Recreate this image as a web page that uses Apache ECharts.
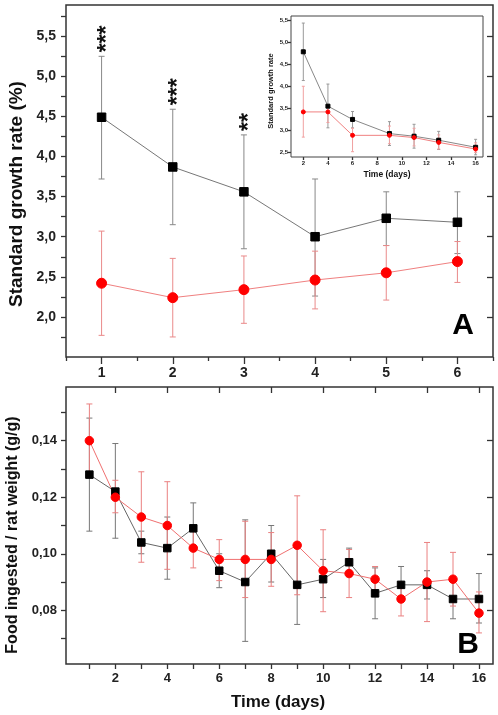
<!DOCTYPE html>
<html><head><meta charset="utf-8">
<script src="https://cdn.jsdelivr.net/npm/echarts@6/dist/echarts.min.js"></script>
<style>html,body{margin:0;padding:0;background:#fff}#c{width:498px;height:715px}</style>
</head><body><div id="c"></div>
<script>
// ---------- Panel A (weeks) ----------
const weeksA = [1, 2, 3, 4, 5, 6];
const blackA   = [4.49, 3.87, 3.56, 3.00, 3.23, 3.18];
const blackAHi = [5.25, 4.59, 4.27, 3.72, 3.56, 3.56];
const blackALo = [3.72, 3.15, 2.85, 2.26, 2.89, 2.79];
const redA     = [2.42, 2.24, 2.34, 2.46, 2.55, 2.69];
const redAHi   = [3.07, 2.73, 2.76, 2.82, 2.89, 2.94];
const redALo   = [1.77, 1.75, 1.92, 2.10, 2.21, 2.43];
const starsA   = ['***', '***', '**', '', '', ''];
const yTicksA  = [2.0, 2.5, 3.0, 3.5, 4.0, 4.5, 5.0, 5.5];
const yMinorA  = [1.75, 2.0, 2.25, 2.5, 2.75, 3.0, 3.25, 3.5, 3.75, 4.0, 4.25, 4.5, 4.75, 5.0, 5.25, 5.5, 5.75];
const xMinorA  = [0.5, 1.5, 2.5, 3.5, 4.5, 5.5, 6.5];

// ---------- Inset (days) ----------
const daysIn     = [2, 4, 6, 9, 11, 13, 16];
const blackIn    = [4.78, 3.55, 3.25, 2.93, 2.87, 2.78, 2.62];
const blackInHi  = [5.43, 4.05, 3.43, 3.20, 3.14, 2.98, 2.80];
const blackInLo  = [4.13, 3.06, 3.06, 2.66, 2.60, 2.57, 2.45];
const redIn      = [3.42, 3.42, 2.89, 2.89, 2.84, 2.73, 2.58];
const redInHi    = [4.00, 3.55, 3.05, 3.10, 3.05, 2.90, 2.72];
const redInLo    = [2.85, 3.18, 2.52, 2.70, 2.65, 2.58, 2.50];
const xTicksIn   = [2, 4, 6, 8, 10, 12, 14, 16];
const yTicksIn   = [2.5, 3.0, 3.5, 4.0, 4.5, 5.0, 5.5];

// ---------- Panel B (days) ----------
const daysB    = [1, 2, 3, 4, 5, 6, 7, 8, 9, 10, 11, 12, 13, 14, 15, 16];
const blackB   = [0.128, 0.122, 0.104, 0.102, 0.109, 0.094, 0.090, 0.100, 0.089, 0.091, 0.097, 0.086, 0.089, 0.089, 0.084, 0.084];
const blackBHi = [0.148, 0.139, 0.108, 0.113, 0.118, 0.100, 0.112, 0.110, 0.103, 0.098, 0.102, 0.095, 0.0955, 0.094, 0.091, 0.093];
const blackBLo = [0.108, 0.1055, 0.100, 0.091, 0.101, 0.088, 0.069, 0.090, 0.075, 0.0845, 0.092, 0.077, 0.083, 0.084, 0.077, 0.0755];
const redB     = [0.140, 0.120, 0.113, 0.110, 0.102, 0.098, 0.098, 0.098, 0.103, 0.094, 0.093, 0.091, 0.084, 0.090, 0.091, 0.079];
const redBHi   = [0.153, 0.126, 0.129, 0.1255, 0.109, 0.105, 0.1115, 0.1075, 0.1205, 0.1085, 0.1015, 0.0955, 0.090, 0.104, 0.1005, 0.0865];
const redBLo   = [0.127, 0.1145, 0.097, 0.0945, 0.095, 0.0905, 0.0845, 0.0885, 0.0855, 0.0795, 0.0845, 0.0865, 0.078, 0.076, 0.0815, 0.072];
const yTicksB  = [0.08, 0.10, 0.12, 0.14];
const yMinorB  = [0.07, 0.08, 0.09, 0.10, 0.11, 0.12, 0.13, 0.14, 0.15];
const xTicksB  = [2, 4, 6, 8, 10, 12, 14, 16];
const xMinorB  = [1, 2, 3, 4, 5, 6, 7, 8, 9, 10, 11, 12, 13, 14, 15, 16];

const FONT = '"Liberation Sans", Arial, sans-serif';
const comma = d => v => v.toFixed(d).replace('.', ',');
const zip = (a, b) => a.map((v, i) => [v, b[i]]);

function axis(o) {
  return Object.assign({
    type: 'value', axisLine: {show: false}, splitLine: {show: false},
    axisTick: {show: false}, axisLabel: {show: false}
  }, o);
}
function ticks(vals, len, inside, color) {
  return {show: true, customValues: vals, length: len, inside: !!inside,
          lineStyle: {color: color || '#333', width: 1.3}};
}
function labels(vals, size, fmt, margin, extra) {
  return Object.assign({show: true, customValues: vals, fontSize: size, fontWeight: 'bold',
          fontFamily: FONT, color: '#222', formatter: fmt, margin: margin}, extra || {});
}
function errSeries(xi, yi, xs, lo, hi, color, cap) {
  return {
    type: 'custom', xAxisIndex: xi, yAxisIndex: yi, silent: true, z: 1,
    data: xs.map((x, i) => [x, lo[i], hi[i]]),
    encode: {x: 0, y: [1, 2]},
    renderItem(params, api) {
      const x = api.value(0);
      const a = api.coord([x, api.value(1)]);
      const b = api.coord([x, api.value(2)]);
      const h = cap / 2, st = {stroke: color, lineWidth: 1, fill: null};
      return {type: 'group', children: [
        {type: 'line', shape: {x1: a[0], y1: a[1], x2: b[0], y2: b[1]}, style: st},
        {type: 'line', shape: {x1: a[0] - h, y1: a[1], x2: a[0] + h, y2: a[1]}, style: st},
        {type: 'line', shape: {x1: b[0] - h, y1: b[1], x2: b[0] + h, y2: b[1]}, style: st}
      ]};
    }
  };
}
function lineSeries(xi, yi, xs, ys, sym, size, col, lineCol) {
  return {type: 'line', xAxisIndex: xi, yAxisIndex: yi, data: zip(xs, ys), symbol: sym,
    symbolSize: size, itemStyle: {color: col, borderColor: col}, showSymbol: true,
    lineStyle: {color: lineCol, width: 1}, z: 3, silent: true, animation: false};
}

const A = {min: 1.5, max: 5.89}, AX = {min: 0.5, max: 6.5};
const I = {min: 2.4, max: 5.59}, IX = {min: 1, max: 16.6};
const B = {min: 0.061, max: 0.159}, BX = {min: 0.1, max: 16.54};

const option = {
  animation: false,
  backgroundColor: '#fff',
  grid: [
    {left: 66, top: 5, width: 427, height: 352, show: true, borderColor: '#333', borderWidth: 1.5, backgroundColor: 'transparent'},
    {left: 291, top: 16, width: 192, height: 141, show: true, borderColor: '#444', borderWidth: 1, backgroundColor: '#fff', z: 4},
    {left: 66, top: 387, width: 427, height: 277, show: true, borderColor: '#333', borderWidth: 1.5, backgroundColor: 'transparent'}
  ],
  xAxis: [
    axis(Object.assign({gridIndex: 0, position: 'bottom', axisTick: ticks(weeksA, 7),
      axisLabel: labels(weeksA, 14, v => String(v), 9)}, AX)),
    axis(Object.assign({gridIndex: 0, position: 'bottom', axisTick: ticks(xMinorA, 4)}, AX)),
    axis(Object.assign({gridIndex: 1, position: 'bottom', axisTick: ticks(xTicksIn, 3),
      axisLabel: labels(xTicksIn, 6, v => String(v), 3)}, IX)),
    axis(Object.assign({gridIndex: 1, position: 'top', axisTick: ticks(xTicksIn, 3, true)}, IX)),
    axis(Object.assign({gridIndex: 2, position: 'bottom', axisTick: ticks(xMinorB, 5),
      axisLabel: labels(xTicksB, 13, v => String(v), 8)}, BX)),
    axis(Object.assign({gridIndex: 2, position: 'top', axisTick: ticks(xTicksB, 6, true)}, BX))
  ],
  yAxis: [
    axis(Object.assign({gridIndex: 0, position: 'left', axisTick: ticks(yMinorA, 5),
      axisLabel: labels(yTicksA, 14, comma(1), 10)}, A)),
    axis(Object.assign({gridIndex: 0, position: 'right', axisTick: ticks(yTicksA, 6, true)}, A)),
    axis(Object.assign({gridIndex: 1, position: 'left', axisTick: ticks(yTicksIn, 3),
      axisLabel: labels(yTicksIn, 6, comma(1), 3)}, I)),
    axis(Object.assign({gridIndex: 1, position: 'right', axisTick: ticks(yTicksIn, 3, true)}, I)),
    axis(Object.assign({gridIndex: 2, position: 'left', axisTick: ticks(yMinorB, 5),
      axisLabel: labels(yTicksB, 13, comma(2), 9)}, B)),
    axis(Object.assign({gridIndex: 2, position: 'right', axisTick: ticks(yTicksB, 6, true)}, B))
  ],
  series: [
    errSeries(0, 0, weeksA, blackALo, blackAHi, '#888', 6),
    errSeries(0, 0, weeksA, redALo, redAHi, '#ea8a8a', 6),
    lineSeries(0, 0, weeksA, blackA, 'rect', 8.5, '#000', '#777'),
    lineSeries(0, 0, weeksA, redA, 'circle', 10, '#f00', '#f08080'),
    {
      type: 'custom', xAxisIndex: 0, yAxisIndex: 0, silent: true, z: 5,
      data: weeksA.map((x, i) => [x, blackAHi[i]]),
      renderItem(params, api) {
        const p = api.coord([api.value(0), api.value(1)]);
        return {type: 'text', x: p[0] + 6, y: p[1] - 4, rotation: Math.PI / 2,
          style: {text: starsA[params.dataIndex], fontSize: 23, fontWeight: 'bold', fontFamily: FONT,
                  fill: '#111', align: 'left', verticalAlign: 'middle'}};
      }
    },
    Object.assign(errSeries(2, 2, daysIn, blackInLo, blackInHi, '#999', 3), {z: 6}),
    Object.assign(errSeries(2, 2, daysIn, redInLo, redInHi, '#f0a0a0', 3), {z: 6}),
    Object.assign(lineSeries(2, 2, daysIn, blackIn, 'rect', 4, '#000', '#888'), {z: 7}),
    Object.assign(lineSeries(2, 2, daysIn, redIn, 'circle', 4, '#f00', '#f08080'), {z: 7}),
    errSeries(4, 4, daysB, blackBLo, blackBHi, '#777', 6),
    errSeries(4, 4, daysB, redBLo, redBHi, '#ea8080', 6),
    lineSeries(4, 4, daysB, blackB, 'rect', 7.5, '#000', '#666'),
    lineSeries(4, 4, daysB, redB, 'circle', 8.5, '#f00', '#f07070')
  ],
  graphic: [
    {type: 'text', x: 17, y: 194, rotation: Math.PI / 2, z: 10,
      style: {text: 'Standard growth rate (%)', font: 'bold 19px ' + FONT, fill: '#111', align: 'center', verticalAlign: 'middle'}},
    {type: 'text', x: 463, y: 326, z: 10,
      style: {text: 'A', font: 'bold 30px ' + FONT, fill: '#000', align: 'center', verticalAlign: 'middle'}},
    {type: 'text', x: 271, y: 91, rotation: Math.PI / 2, z: 10,
      style: {text: 'Standard growth rate', font: 'bold 7.5px ' + FONT, fill: '#111', align: 'center', verticalAlign: 'middle'}},
    {type: 'text', x: 387, y: 175, z: 10,
      style: {text: 'Time (days)', font: 'bold 8.5px ' + FONT, fill: '#111', align: 'center', verticalAlign: 'middle'}},
    {type: 'text', x: 13, y: 535, rotation: Math.PI / 2, z: 10,
      style: {text: 'Food ingested / rat weight (g/g)', font: 'bold 16px ' + FONT, fill: '#111', align: 'center', verticalAlign: 'middle'}},
    {type: 'text', x: 468, y: 645, z: 10,
      style: {text: 'B', font: 'bold 30px ' + FONT, fill: '#000', align: 'center', verticalAlign: 'middle'}},
    {type: 'text', x: 278, y: 702, z: 10,
      style: {text: 'Time (days)', font: 'bold 17px ' + FONT, fill: '#111', align: 'center', verticalAlign: 'middle'}}
  ]
};
const chart = echarts.init(document.getElementById('c'), null, {renderer: 'canvas'});
chart.setOption(option);
</script></body></html>
